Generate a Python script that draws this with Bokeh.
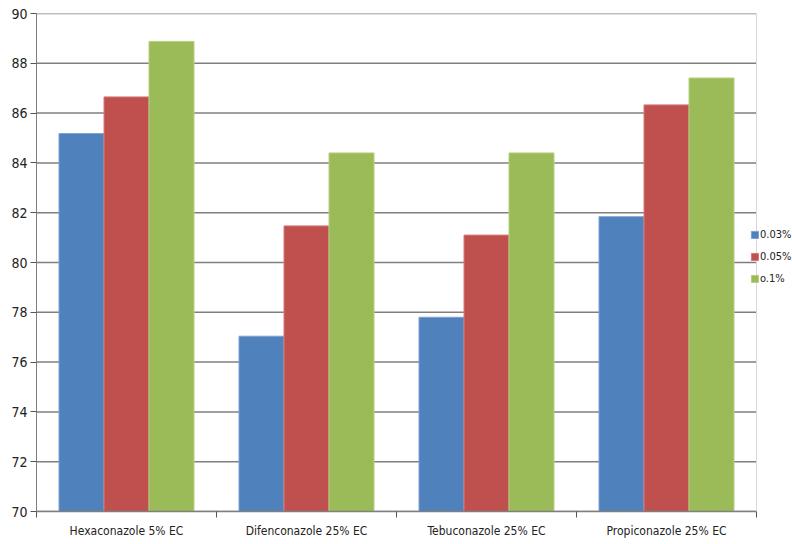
from bokeh.plotting import figure
from bokeh.models import Range1d, FixedTicker, Legend, LegendItem, Span
from bokeh.embed import file_html
from bokeh.resources import INLINE

categories = ["Hexaconazole 5% EC", "Difenconazole 25% EC", "Tebuconazole 25% EC", "Propiconazole 25% EC"]
series_names = ["0.03%", "0.05%", "o.1%"]
s003 = [85.18, 77.04, 77.8, 81.84]
s005 = [86.65, 81.47, 81.1, 86.33]
s01 = [88.88, 84.4, 84.4, 87.41]
series = [s003, s005, s01]
colors = ["#4F81BD", "#C0504D", "#9BBB59"]
edge_colors = ["#7da2d4", "#d47a78", "#b7d07e"]
y_ticks = [70, 72, 74, 76, 78, 80, 82, 84, 86, 88, 90]

FONT = "'DejaVu Sans Condensed', 'Liberation Sans Narrow', sans-serif"
n = len(categories)

# frame spans to the right edge of the canvas; the extra 0.2 units leave room for the legend
p = figure(width=792, height=544, output_backend="svg", toolbar_location=None,
           x_range=Range1d(0, n + 0.2), y_range=Range1d(70, 90),
           min_border_left=36, min_border_right=0, min_border_top=13, min_border_bottom=33)
p.background_fill_color = "white"
p.border_fill_color = "white"
p.outline_line_color = None

# horizontal grid lines limited to the plot area
p.xgrid.visible = False
p.ygrid.visible = False
p.segment(x0=[0] * len(y_ticks), x1=[n] * len(y_ticks), y0=y_ticks, y1=y_ticks,
          line_color="#7f7f7f", line_width=1.5)
p.add_layout(Span(location=n, dimension="height", line_color="#d9d9d9", line_width=1))

offsets = [-0.25, 0.0, 0.25]
renderers = []
for k, vals in enumerate(series):
    xs = [i + 0.5 + offsets[k] for i in range(n)]
    r = p.vbar(x=xs, top=vals, bottom=70, width=0.25, fill_color=colors[k],
               line_color=edge_colors[k], line_width=1)
    renderers.append(r)

# y axis
p.yaxis.ticker = FixedTicker(ticks=y_ticks)
p.yaxis.axis_line_color = "#7f7f7f"
p.yaxis.major_tick_line_color = "#555555"
p.yaxis.major_tick_out = 6
p.yaxis.major_tick_in = 0
p.yaxis.minor_tick_line_color = None
p.yaxis.major_label_text_font = FONT
p.yaxis.major_label_text_font_size = "14px"
p.yaxis.major_label_text_color = "#222222"
p.yaxis.major_label_standoff = 3

# x axis
centers = [i + 0.5 for i in range(n)]
bounds = [float(i) for i in range(n + 1)]
p.xaxis.ticker = FixedTicker(ticks=centers, minor_ticks=bounds)
p.xaxis.major_label_overrides = {c: lab for c, lab in zip(centers, categories)}
p.xaxis.bounds = (0, n)
p.xaxis.axis_line_color = "#7f7f7f"
p.xaxis.axis_line_width = 1.5
p.xaxis.major_tick_line_color = None
p.xaxis.major_tick_out = 0
p.xaxis.major_tick_in = 0
p.xaxis.minor_tick_line_color = "#555555"
p.xaxis.minor_tick_out = 6
p.xaxis.minor_tick_in = 0
p.xaxis.major_label_text_font = FONT
p.xaxis.major_label_text_font_size = "12px"
p.xaxis.major_label_text_color = "#222222"
p.xaxis.major_label_standoff = 6

legend = Legend(items=[LegendItem(label=s, renderers=[r]) for s, r in zip(series_names, renderers)],
                location=(714, 222), orientation="vertical")
legend.background_fill_alpha = 0
legend.border_line_color = None
legend.padding = 0
legend.margin = 0
legend.spacing = 0
legend.glyph_width = 9
legend.glyph_height = 9
legend.label_height = 22
legend.label_standoff = 1
legend.label_text_font = FONT
legend.label_text_font_size = "11px"
legend.label_text_color = "#222222"
p.add_layout(legend, "center")

open("out.html", "w").write(file_html(p, INLINE))
